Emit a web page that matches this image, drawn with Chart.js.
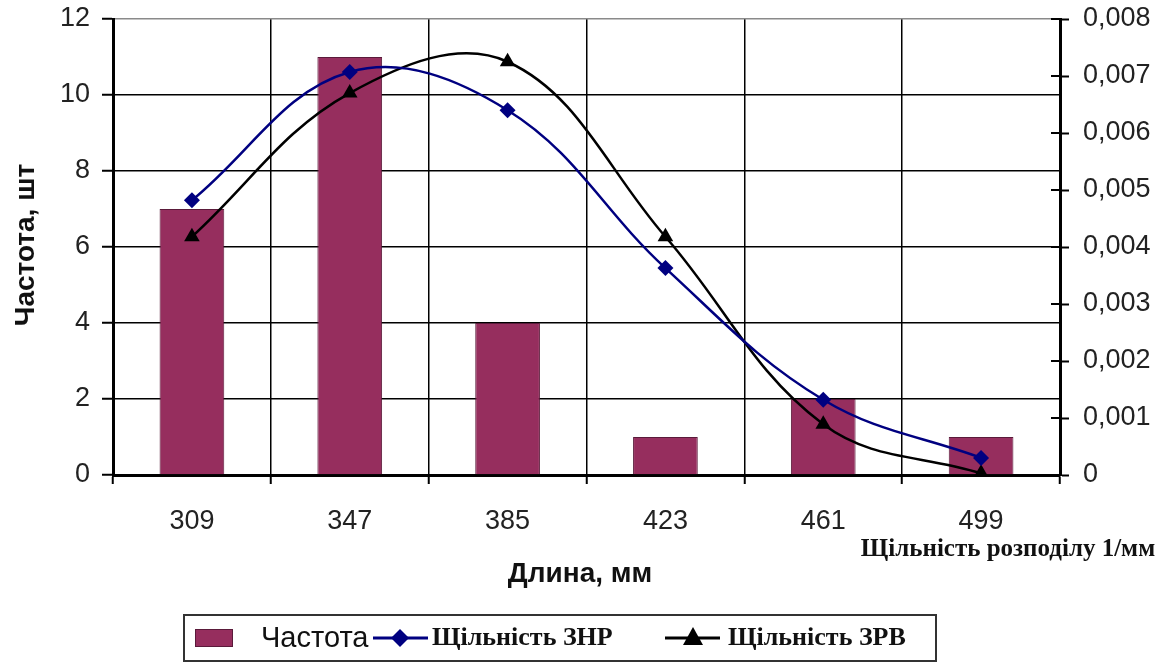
<!DOCTYPE html>
<html>
<head>
<meta charset="utf-8">
<script src="https://cdn.jsdelivr.net/npm/chart.js@4.4.0/dist/chart.umd.min.js"></script>
<style>
  html, body { margin: 0; padding: 0; background: #ffffff; }
  #wrap { width: 1168px; height: 664px; position: relative; }
</style>
</head>
<body>
<div id="wrap"><canvas id="c" width="1168" height="664"></canvas></div>
<script>
// Length classes (mm) and observed counts
const lengths = ['309', '347', '385', '423', '461', '499'];
const frequency = [7, 11, 4, 1, 2, 1];
// Probability densities, 1/mm
const densityNormal = [0.00482, 0.00707, 0.00640, 0.00363, 0.00132, 0.00030];
const densityWeibull = [0.00418, 0.00670, 0.00725, 0.00418, 0.00089, 0.00003];
// Axis tick values
const leftTicks = [0, 2, 4, 6, 8, 10, 12];
const rightTicks = [0, 0.001, 0.002, 0.003, 0.004, 0.005, 0.006, 0.007, 0.008];

const SANS = '"Liberation Sans", Arial, sans-serif';
const SERIF = '"Liberation Serif", "Times New Roman", serif';
const BAR_FILL = '#962e5e';
const BAR_EDGE = '#5a1a3a';
const BLUE = '#000080';
const SMOOTH = 0.38;

function fmtRight(v) {
  return v === 0 ? '0' : v.toFixed(3).replace('.', ',');
}

// vertical scales get a fixed width and no extra label padding
function fixVertical(width) {
  return s => {
    s.width = width;
    s.paddingTop = 0;
    s.paddingBottom = 0;
  };
}

// Titles, the right-hand axis note and the framed legend
const decorations = {
  id: 'decorations',
  afterDatasetsDraw(chart) {
    // inner halves of the crossing ticks on the right axis
    const y1 = chart.scales.y1;
    const ctx = chart.ctx;
    ctx.save();
    ctx.strokeStyle = '#000';
    ctx.lineWidth = 2;
    y1.ticks.forEach(t => {
      const py = y1.getPixelForValue(t.value);
      ctx.beginPath();
      ctx.moveTo(y1.left - 9, py);
      ctx.lineTo(y1.left, py);
      ctx.stroke();
    });
    ctx.restore();
  },
  afterDraw(chart) {
    const ctx = chart.ctx;
    ctx.save();
    ctx.fillStyle = '#111';
    ctx.textAlign = 'center';
    ctx.textBaseline = 'middle';

    // left axis title
    ctx.save();
    ctx.translate(26, 245);
    ctx.rotate(-Math.PI / 2);
    ctx.font = 'bold 28px ' + SANS;
    ctx.fillText('Частота, шт', 0, 0);
    ctx.restore();

    // bottom axis title
    ctx.font = 'bold 28px ' + SANS;
    ctx.fillText('Длина, мм', 580, 574);

    // right axis note
    ctx.font = 'bold 25px ' + SERIF;
    ctx.fillText('Щільність розподілу 1/мм', 1008, 550);

    // legend frame
    ctx.strokeStyle = '#333';
    ctx.lineWidth = 2;
    ctx.strokeRect(184, 615, 752, 46);

    const ly = 638;
    // bar swatch
    ctx.fillStyle = BAR_FILL;
    ctx.fillRect(195, ly - 9, 38, 18);
    ctx.strokeStyle = BAR_EDGE;
    ctx.lineWidth = 1;
    ctx.strokeRect(195.5, ly - 8.5, 37, 17);

    ctx.fillStyle = '#111';
    ctx.textAlign = 'left';
    ctx.font = '29px ' + SANS;
    ctx.fillText('Частота', 261, ly + 1);

    // normal density swatch
    ctx.strokeStyle = BLUE;
    ctx.lineWidth = 3;
    ctx.beginPath();
    ctx.moveTo(373, ly);
    ctx.lineTo(428, ly);
    ctx.stroke();
    ctx.fillStyle = BLUE;
    ctx.beginPath();
    ctx.moveTo(400, ly - 9);
    ctx.lineTo(409, ly);
    ctx.lineTo(400, ly + 9);
    ctx.lineTo(391, ly);
    ctx.closePath();
    ctx.fill();

    ctx.fillStyle = '#111';
    ctx.font = 'bold 26px ' + SERIF;
    ctx.fillText('Щільність ЗНР', 432, ly);

    // Weibull density swatch
    ctx.strokeStyle = '#000';
    ctx.lineWidth = 3;
    ctx.beginPath();
    ctx.moveTo(665, ly);
    ctx.lineTo(720, ly);
    ctx.stroke();
    ctx.fillStyle = '#000';
    ctx.beginPath();
    ctx.moveTo(693, ly - 11);
    ctx.lineTo(703, ly + 7);
    ctx.lineTo(683, ly + 7);
    ctx.closePath();
    ctx.fill();

    ctx.fillStyle = '#111';
    ctx.fillText('Щільність ЗРВ', 728, ly);
    ctx.restore();
  }
};

new Chart(document.getElementById('c'), {
  data: {
    labels: lengths,
    datasets: [
      {
        type: 'line',
        label: 'Щільність ЗНР',
        data: densityNormal,
        yAxisID: 'y1',
        borderColor: BLUE,
        backgroundColor: BLUE,
        borderWidth: 2.5,
        tension: SMOOTH,
        pointStyle: 'rectRot',
        pointRadius: 8,
        pointBorderWidth: 0,
        order: 0
      },
      {
        type: 'line',
        label: 'Щільність ЗРВ',
        data: densityWeibull,
        yAxisID: 'y1',
        borderColor: '#000000',
        backgroundColor: '#000000',
        borderWidth: 2.5,
        tension: SMOOTH,
        pointStyle: 'triangle',
        pointRadius: 9,
        pointBorderWidth: 0,
        order: 1
      },
      {
        type: 'bar',
        label: 'Частота',
        data: frequency,
        yAxisID: 'y',
        backgroundColor: BAR_FILL,
        borderColor: BAR_EDGE,
        borderWidth: 1,
        categoryPercentage: 1,
        barPercentage: 0.41,
        order: 2
      }
    ]
  },
  options: {
    responsive: false,
    animation: false,
    devicePixelRatio: 1,
    layout: { padding: { top: 19, left: 0, right: 0, bottom: 0 } },
    plugins: {
      legend: { display: false },
      tooltip: { enabled: false }
    },
    scales: {
      x: {
        type: 'category',
        offset: true,
        grid: {
          offset: true,
          color: '#000',
          lineWidth: 1.5,
          tickLength: 9,
          tickWidth: 2,
          tickColor: '#000'
        },
        border: { color: '#000', width: 3 },
        ticks: {
          color: '#222',
          font: { family: SANS, size: 27 },
          padding: 21,
          maxRotation: 0
        },
        afterFit(s) {
          s.height = 189;
          s.paddingLeft = 0;
          s.paddingRight = 0;
        }
      },
      y: {
        type: 'linear',
        position: 'left',
        min: 0,
        max: 12,
        afterBuildTicks(s) { s.ticks = leftTicks.map(v => ({ value: v })); },
        grid: {
          color: ctx => (ctx.tick && ctx.tick.value === 12 ? '#8a8a8a' : '#000'),
          lineWidth: 1.5,
          tickLength: 11,
          tickWidth: 2,
          tickColor: '#000'
        },
        border: { color: '#000', width: 3 },
        ticks: {
          color: '#222',
          font: { family: SANS, size: 27 },
          padding: 12
        },
        afterFit: fixVertical(113)
      },
      y1: {
        type: 'linear',
        position: 'right',
        min: 0,
        max: 0.008,
        afterBuildTicks(s) { s.ticks = rightTicks.map(v => ({ value: v })); },
        grid: {
          drawOnChartArea: false,
          tickLength: 9,
          tickWidth: 2,
          tickColor: '#000'
        },
        border: { color: '#000', width: 3 },
        ticks: {
          color: '#222',
          font: { family: SANS, size: 27 },
          padding: 14,
          callback: v => fmtRight(v)
        },
        afterFit: fixVertical(108)
      }
    }
  },
  plugins: [decorations]
});
</script>
</body>
</html>
